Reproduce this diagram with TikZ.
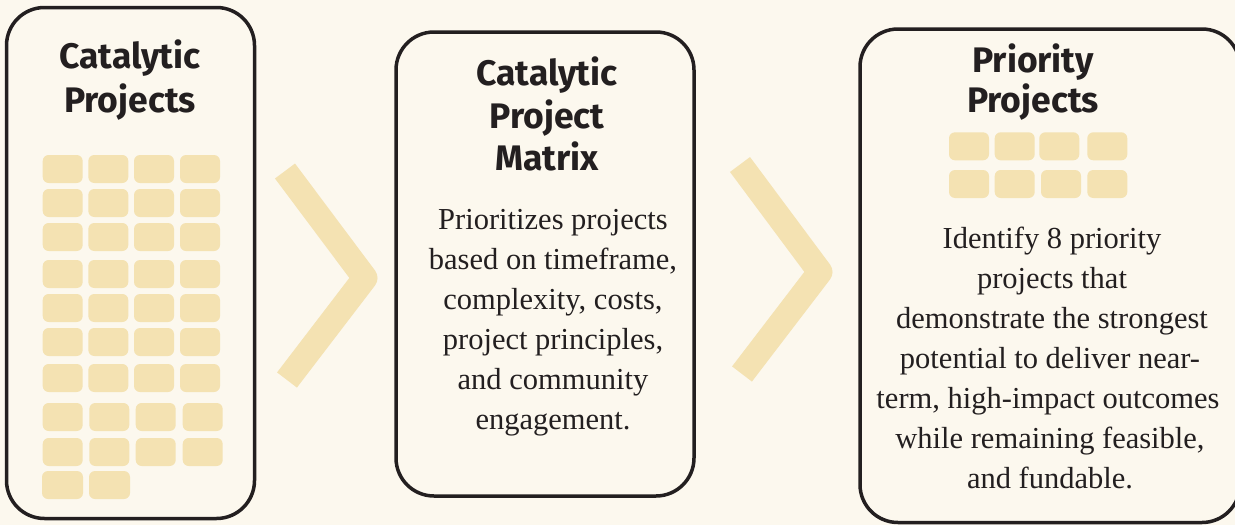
\documentclass[tikz,border=0pt]{standalone}
\usepackage{fontspec}
\setmainfont{Liberation Serif}
\newfontfamily\titlefont{Fira Sans}[UprightFont=* Bold]
\definecolor{bgc}{HTML}{FCF8EE}
\definecolor{tilec}{HTML}{F4E2B2}
\definecolor{inkc}{HTML}{231F20}
\begin{document}
\begin{tikzpicture}[x=1pt,y=-1pt,
  panel/.style={draw=inkc,line width=3.5pt,rounded corners=38pt,fill=bgc},
  tile/.style={fill=tilec,rounded corners=6pt},
  chev/.style={draw=tilec,line width=25pt,line join=round,line cap=butt},
  ttl/.style={font=\titlefont\fontsize{35.5}{42}\selectfont,text=inkc,anchor=base,inner sep=0pt},
  body/.style={font=\fontsize{30.5}{40}\selectfont,text=inkc,anchor=base,inner sep=0pt}]
\fill[bgc] (0,0) rectangle (1235,525);
\useasboundingbox (0,0) rectangle (1235,525);
% panels
\draw[panel] (6.5,7.5) rectangle (254.5,518.5);
\draw[panel] (396,32) rectangle (694,496);
\draw[panel] (860,29) rectangle (1240,522.5);
% chevrons
\draw[chev] (285,171) -- (365,278) -- (287,380);
\draw[chev] (740,164.5) -- (820,272) -- (742,374);
% tiles panel 1
\foreach \y in {155,189,223,260,294,328,364}{
  \foreach \x in {42.7,88.3,134,180}{
    \fill[tile] (\x,\y) rectangle ++(40,28);
  }
}
\foreach \y in {403,438}{
  \foreach \x in {42.7,89.3,135.7,182.7}{
    \fill[tile] (\x,\y) rectangle ++(40,28);
  }
}
\foreach \x in {42,89}{
  \fill[tile] (\x,471) rectangle ++(41,28);
}
% tiles panel 3
\foreach \x in {949,994.7,1039.3,1087.3}{
  \fill[tile] (\x,132.3) rectangle ++(40,28);
}
\foreach \x in {949,994.7,1041,1087.3}{
  \fill[tile] (\x,170) rectangle ++(40,28);
}
% titles
\node[ttl] (t1a) at (130,68) {Catalytic};
\node[ttl] (t1b) at (130,112) {Projects};
\node[ttl] (t2a) at (547,85) {Catalytic};
\node[ttl] (t2b) at (547,128) {Project};
\node[ttl] (t2c) at (547,170) {Matrix};
\node[ttl] (t3a) at (1033,72) {Priority};
\node[ttl] (t3b) at (1033,112.5) {Projects};
% body 2
\node[body] (b2a) at (553,229) {Prioritizes projects};
\node[body] (b2b) at (553,269) {based on timeframe,};
\node[body] (b2c) at (553,309) {complexity, costs,};
\node[body] (b2d) at (553,349) {project principles,};
\node[body] (b2e) at (553,389) {and community};
\node[body] (b2f) at (553,429) {engagement.};
% body 3
\node[body] (b3a) at (1052,248) {Identify 8 priority};
\node[body] (b3b) at (1052,288) {projects that};
\node[body] (b3c) at (1052,328) {demonstrate the strongest};
\node[body] (b3d) at (1050,368) {potential to deliver near-};
\node[body] (b3e) at (1048,408) {term, high-impact outcomes};
\node[body] (b3f) at (1050,448) {while remaining feasible,};
\node[body] (b3g) at (1050,488) {and fundable.};
\end{tikzpicture}
\end{document}
